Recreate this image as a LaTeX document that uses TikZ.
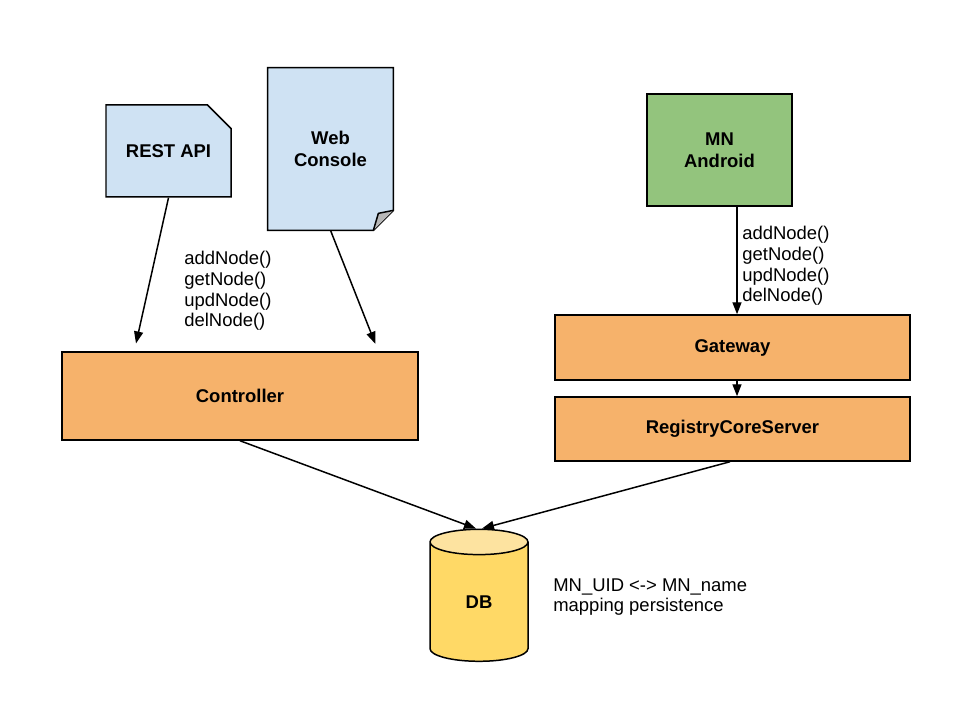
\documentclass[tikz,border=0pt]{standalone}
\usepackage{fontspec}
\setmainfont{Liberation Sans}
\usepackage{tikz}
\usetikzlibrary{shapes.geometric, shapes.misc, arrows.meta, positioning, backgrounds, calc}
\definecolor{docblue}{HTML}{CFE2F3}
\definecolor{mngreen}{HTML}{93C47D}
\definecolor{boxorange}{HTML}{F6B26B}
\definecolor{dbyellow}{HTML}{FFD966}
\definecolor{dbtop}{HTML}{FDE3A0}
\definecolor{foldgray}{HTML}{B7B7B7}

\begin{document}
\begin{tikzpicture}[
  every node/.style={font=\fontsize{10.5}{11.8}\selectfont},
  boxlabel/.style={font=\fontsize{10.5}{12.8}\selectfont\bfseries, align=center},
  compbox/.style={boxlabel, draw, line width=0.85pt, fill=boxorange, inner sep=0pt},
  restdoc/.style={boxlabel, draw, line width=0.85pt, fill=docblue, chamfered rectangle,
    chamfered rectangle corners=north east, chamfered rectangle xsep=0.34cm,
    chamfered rectangle ysep=0.34cm, inner sep=0pt},
  flow/.style={-{Triangle[length=0.24cm, width=0.18cm]}, line width=0.85pt},
  ops/.style={align=left, inner sep=0pt},
]
  \useasboundingbox (0,0) rectangle (19.2,14.4);

  % clients
  \node[restdoc, minimum width=2.5cm, minimum height=1.84cm] (rest) at (3.37, 11.38) {REST API};
  \node[boxlabel, minimum width=2.5cm, minimum height=3.24cm, inner sep=0pt] (web) at (6.61, 11.42) {Web\\Console};
  \node[boxlabel, draw, line width=0.85pt, fill=mngreen, minimum width=2.9cm, minimum height=2.24cm, inner sep=0pt]
      (mn) at (14.39, 11.4) {MN\\Android};

  % web console page with folded corner
  \begin{scope}[on background layer]
    \draw[line width=0.85pt, fill=docblue]
      (web.south west) -- (web.north west) -- (web.north east)
      -- ([yshift=0.4cm]web.south east) -- ([xshift=-0.4cm]web.south east) -- cycle;
    \draw[line width=0.85pt, fill=foldgray, line join=round]
      ([xshift=-0.4cm]web.south east) -- ([xshift=-0.3cm, yshift=0.34cm]web.south east)
      -- ([yshift=0.4cm]web.south east);
  \end{scope}

  % servers
  \node[compbox, minimum width=7.12cm, minimum height=1.76cm] (ctrl) at (4.8, 6.48) {Controller};
  \node[compbox, minimum width=7.1cm, minimum height=1.3cm] (gw) at (14.65, 7.45) {Gateway};
  \node[compbox, minimum width=7.1cm, minimum height=1.28cm] (rcs) at (14.65, 5.82) {RegistryCoreServer};

  % database
  \node[boxlabel, cylinder, shape border rotate=90, aspect=0.95, draw, line width=0.85pt,
      cylinder uses custom fill, cylinder body fill=dbyellow, cylinder end fill=dbtop,
      minimum width=1.96cm, minimum height=2.64cm, inner sep=0pt] (db) at (9.58, 2.36) {DB};
  \node[ops, anchor=west] (dbnote) at (11.06, 2.46) {MN\_UID <-> MN\_name\\mapping persistence};

  % operation labels
  \node[ops, anchor=west] (opsleft) at (3.68, 8.58) {addNode()\\getNode()\\updNode()\\delNode()};
  \node[ops, anchor=west] (opsright) at (14.84, 9.08) {addNode()\\getNode()\\updNode()\\delNode()};

  % calls
  \draw[flow, shorten >=0.16cm] (rest.south) -- ([xshift=1.46cm]ctrl.north west);
  \draw[flow, shorten >=0.16cm] (web.south) -- ([xshift=6.34cm]ctrl.north west);
  \draw[flow] ([xshift=0.35cm]mn.south) -- ([xshift=0.35cm]mn.south |- gw.north);
  \draw[flow] ([xshift=0.09cm]gw.south) -- ([xshift=0.09cm]rcs.north);
  \draw[flow] (ctrl.south) -- ([xshift=-0.06cm]db.north);
  \draw[flow] ([xshift=-0.05cm]rcs.south) -- ([xshift=0.06cm]db.north);
\end{tikzpicture}
\end{document}
